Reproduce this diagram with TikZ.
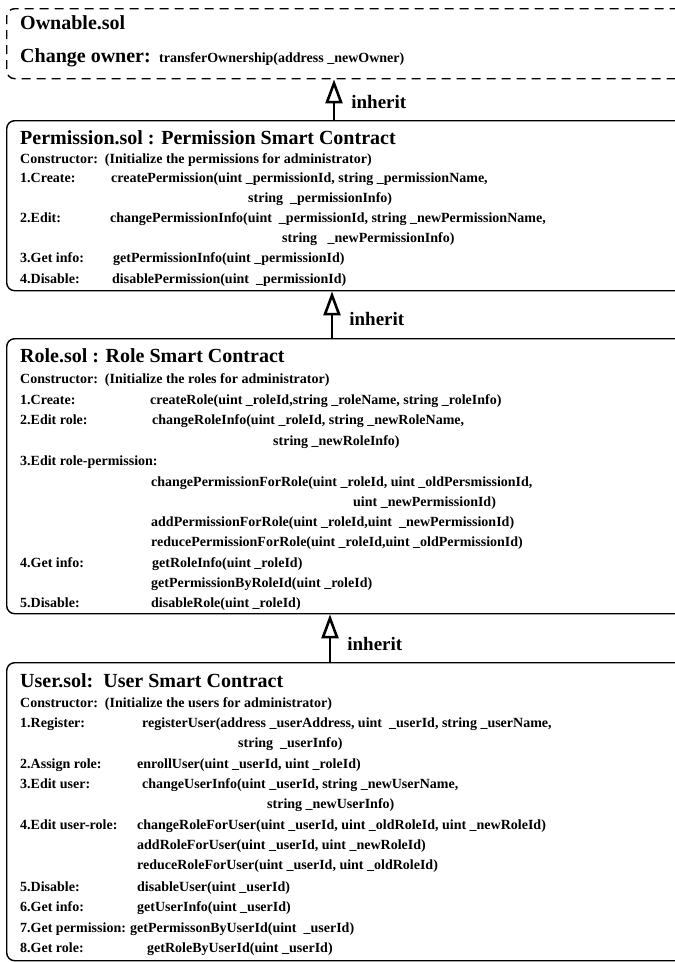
\documentclass[tikz,border=0pt]{standalone}
\usepackage{fontspec}
\setmainfont{Liberation Serif}
\usetikzlibrary{arrows.meta,positioning}
\tikzset{
  contract/.style={draw, line width=1.4pt, rounded corners=8pt, anchor=north west,
    minimum width=740pt, inner sep=0pt},
  ownable/.style={contract, dash pattern=on 9pt off 6pt},
  ctitle/.style={anchor=base west, inner sep=0pt, font=\fontsize{20}{22}\selectfont\bfseries},
  cbody/.style={anchor=base west, inner sep=0pt, font=\fontsize{14}{16}\selectfont\bfseries},
  inheritarrow/.style={line width=2.8pt,
    -{Triangle[length=24pt, width=17pt, line width=2.6pt, fill=white]}},
  inheritlabel/.style={font=\fontsize{19}{21}\selectfont\bfseries, inner sep=0pt, xshift=16pt}
}
\begin{document}
\begin{tikzpicture}[x=1pt,y=-1pt]
    \useasboundingbox (0,0) rectangle (675,962);
    \clip (0,0) rectangle (675,962);
    % boxes
    \node[ownable, minimum height=70pt] (own) at (6,8) {};
    \node[contract, minimum height=170pt] (perm) at (6,120) {};
    \node[contract, minimum height=275pt] (role) at (6,338) {};
    \node[contract, minimum height=298pt] (user) at (6,662) {};
    % Ownable.sol
    \node[ctitle] (ownT) at (20,29) {Ownable.sol};
    \node[ctitle] (ownC) at (20,62) {Change owner:};
    \node[cbody, right=8pt of ownC.base east, anchor=base west] (ownF) {transferOwnership(address \_newOwner)};
    % Permission.sol
    \node[ctitle] (permT) at (20,144) {Permission.sol : Permission Smart Contract};
    \node[cbody] (permK) at (20,163) {Constructor:~~(Initialize the permissions for administrator)};
    \node[cbody] (permA) at (20,182) {1.Create:};
    \node[cbody] (permAf) at (111,182) {createPermission(uint \_permissionId, string \_permissionName,};
    \node[cbody] (permAg) at (248,202) {string~~\_permissionInfo)};
    \node[cbody] (permB) at (20,222) {2.Edit:};
    \node[cbody] (permBf) at (110,222) {changePermissionInfo(uint~~\_permissionId, string \_newPermissionName,};
    \node[cbody] (permBg) at (282,242) {string~~~\_newPermissionInfo)};
    \node[cbody] (permC) at (20,262) {3.Get info:};
    \node[cbody] (permCf) at (113,262) {getPermissionInfo(uint \_permissionId)};
    \node[cbody] (permD) at (20,283) {4.Disable:};
    \node[cbody] (permDf) at (112,283) {disablePermission(uint~~\_permissionId)};
    % Role.sol
    \node[ctitle] (roleT) at (20,362) {Role.sol : Role Smart Contract};
    \node[cbody] (roleK) at (20,383) {Constructor:~~(Initialize the roles for administrator)};
    \node[cbody] (roleA) at (20,404) {1.Create:};
    \node[cbody] (roleAf) at (150,404) {createRole(uint \_roleId,string \_roleName, string \_roleInfo)};
    \node[cbody] (roleB) at (20,424) {2.Edit role:};
    \node[cbody] (roleBf) at (152,424) {changeRoleInfo(uint \_roleId, string \_newRoleName,};
    \node[cbody] (roleBg) at (273,445) {string \_newRoleInfo)};
    \node[cbody] (roleC) at (20,465) {3.Edit role-permission:};
    \node[cbody] (roleCf) at (151,486) {changePermissionForRole(uint \_roleId, uint \_oldPersmissionId,};
    \node[cbody] (roleCg) at (353,506) {uint \_newPermissionId)};
    \node[cbody] (roleCh) at (151,526) {addPermissionForRole(uint \_roleId,uint~~\_newPermissionId)};
    \node[cbody] (roleCi) at (151,546) {reducePermissionForRole(uint \_roleId,uint \_oldPermissionId)};
    \node[cbody] (roleD) at (20,567) {4.Get info:};
    \node[cbody] (roleDf) at (152,567) {getRoleInfo(uint \_roleId)};
    \node[cbody] (roleDg) at (151,587) {getPermissionByRoleId(uint \_roleId)};
    \node[cbody] (roleE) at (20,607) {5.Disable:};
    \node[cbody] (roleEf) at (151,607) {disableRole(uint \_roleId)};
    % User.sol
    \node[ctitle] (userT) at (20,687) {User.sol:~~User Smart Contract};
    \node[cbody] (userK) at (20,707) {Constructor:~~(Initialize the users for administrator)};
    \node[cbody] (userA) at (20,727) {1.Register:};
    \node[cbody] (userAf) at (142,727) {registerUser(address \_userAddress, uint~~\_userId, string \_userName,};
    \node[cbody] (userAg) at (238,747) {string~~\_userInfo)};
    \node[cbody] (userB) at (20,768) {2.Assign role:};
    \node[cbody] (userBf) at (137,768) {enrollUser(uint \_userId, uint \_roleId)};
    \node[cbody] (userC) at (20,788) {3.Edit user:};
    \node[cbody] (userCf) at (142,788) {changeUserInfo(uint \_userId, string \_newUserName,};
    \node[cbody] (userCg) at (267,808) {string \_newUserInfo)};
    \node[cbody] (userD) at (20,829) {4.Edit user-role:};
    \node[cbody] (userDf) at (137,829) {changeRoleForUser(uint \_userId, uint \_oldRoleId, uint \_newRoleId)};
    \node[cbody] (userDg) at (137,849) {addRoleForUser(uint \_userId, uint \_newRoleId)};
    \node[cbody] (userDh) at (137,869) {reduceRoleForUser(uint \_userId, uint \_oldRoleId)};
    \node[cbody] (userE) at (20,891) {5.Disable:};
    \node[cbody] (userEf) at (137,891) {disableUser(uint \_userId)};
    \node[cbody] (userF) at (20,911) {6.Get info:};
    \node[cbody] (userFf) at (137,911) {getUserInfo(uint \_userId)};
    \node[cbody] (userG) at (20,932) {7.Get permission:};
    \node[cbody] (userGf) at (130,932) {getPermissonByUserId(uint~~\_userId)};
    \node[cbody] (userH) at (20,952) {8.Get role:};
    \node[cbody] (userHf) at (147,952) {getRoleByUserId(uint \_userId)};
    % inheritance
    \draw ([xshift=328pt]perm.north west) edge[inheritarrow] node (inhA)[pos=0.45, right, inheritlabel]{inherit} ([xshift=328pt]own.south west);
    \draw ([xshift=326pt]role.north west) edge[inheritarrow] node (inhB)[pos=0.4, right, inheritlabel]{inherit} ([xshift=326pt]perm.south west);
    \draw ([xshift=324pt]user.north west) edge[inheritarrow] node (inhC)[pos=0.38, right, inheritlabel]{inherit} ([xshift=324pt]role.south west);
\end{tikzpicture}
\end{document}
